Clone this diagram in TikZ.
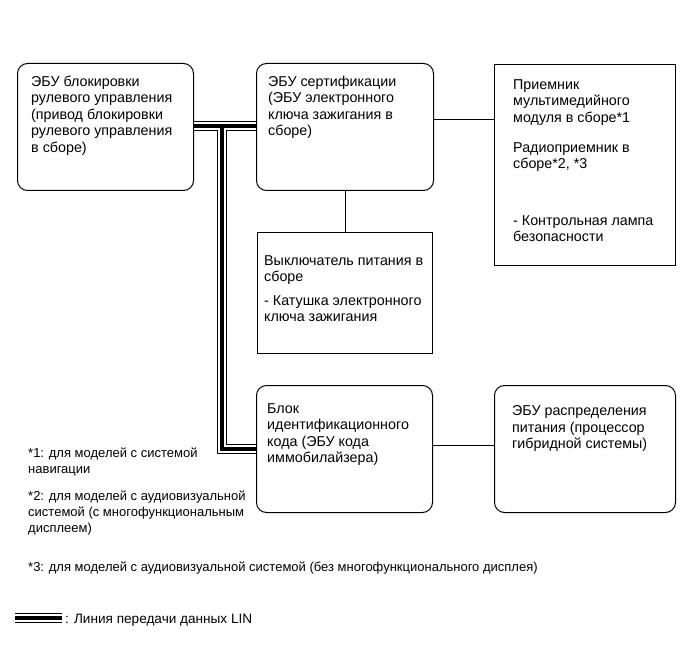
\documentclass[tikz,border=0pt]{standalone}
\usepackage{fontspec}
\setmainfont{Liberation Sans}
\begin{document}
\begin{tikzpicture}[x=1pt,y=-1pt,
  rbox/.style={draw,line width=1pt,rounded corners=10pt,anchor=north west,inner sep=0pt},
  sbox/.style={draw,line width=1pt,anchor=north west,inner sep=0pt},
  txt/.style={anchor=north west,inner sep=0pt,yshift=11.55pt,align=left,
    font=\fontsize{14.3}{16.5}\selectfont,execute at begin node=\strut},
  note/.style={anchor=north west,inner sep=0pt,yshift=11.2pt,align=left,
    font=\fontsize{13}{16}\selectfont,execute at begin node=\strut},
  wire/.style={line width=1pt}]
\useasboundingbox (0,0) rectangle (691,660);
% boxes
\node[rbox,minimum width=176pt,minimum height=127pt] (b1) at (17,63) {};
\node[rbox,minimum width=177pt,minimum height=127pt] (b2) at (256,63) {};
\node[sbox,minimum width=181pt,minimum height=201pt] (b3) at (494,64) {};
\node[sbox,minimum width=175pt,minimum height=121pt] (b4) at (257,232) {};
\node[rbox,minimum width=176pt,minimum height=127pt] (b5) at (256,385) {};
\node[rbox,minimum width=181pt,minimum height=127pt] (b6) at (494,385) {};
% texts
\node[txt] (t1) at (31,87) {ЭБУ блокировки\\рулевого управления\\(привод блокировки\\рулевого управления\\в сборе)};
\node[txt] (t2) at (268,87) {ЭБУ сертификации\\(ЭБУ электронного\\ключа зажигания в\\сборе)};
\node[txt] (t3a) at (513,91) {Приемник\\мультимедийного\\модуля в сборе*1};
\node[txt] (t3b) at (513,154) {Радиоприемник в\\сборе*2, *3};
\node[txt] (t3c) at (513,227) {- Контрольная лампа\\безопасности};
\node[txt] (t4a) at (264,267) {Выключатель питания в\\сборе};
\node[txt] (t4b) at (264,307) {- Катушка электронного\\ключа зажигания};
\node[txt] (t5) at (267,415) {Блок\\идентификационного\\кода (ЭБУ кода\\иммобилайзера)};
\node[txt] (t6) at (512,417) {ЭБУ распределения\\питания (процессор\\гибридной системы)};
\node[note] (n1) at (28,459) {*1: для моделей с системой\\навигации};
\node[note] (n2) at (28,502) {*2: для моделей с аудиовизуальной\\системой (с многофункциональным\\дисплеем)};
\node[note] (n3) at (28,571) {*3: для моделей с аудиовизуальной системой (без многофункционального дисплея)};
\node[note,font=\fontsize{13.6}{16}\selectfont] (lg) at (65,623) {: Линия передачи данных LIN};
% plain connectors
\draw[wire] (b2.east |- 0,120) -- (b3.west |- 0,120);
\draw[wire] (b2.south) -- (b4.north);
\draw[wire] (b5.east |- 0,445) -- (b6.west |- 0,445);
% LIN data line
\coordinate (lt) at (222,126);
\coordinate (lb) at (222,449);
\coordinate (la) at (15,618);
\coordinate (lz) at (62,618);
\foreach \w/\c in {10/black,8/white,4.6/black}{
  \draw[line width=\w pt,\c] (b1.east |- lt) -- (b2.west |- lt) (lt) -- (lb) -- (b5.west |- lb);
  \draw[line width=\w pt,\c] (la) -- (lz);
}
\end{tikzpicture}
\end{document}
